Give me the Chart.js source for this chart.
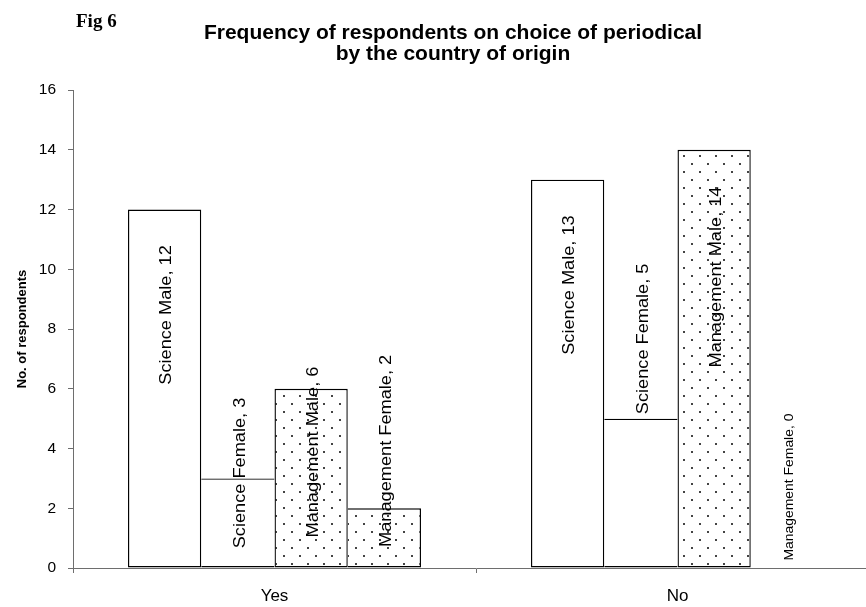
<!DOCTYPE html>
<html>
<head>
<meta charset="utf-8">
<script src="https://cdn.jsdelivr.net/npm/chart.js@4/dist/chart.umd.min.js"></script>
<style>
  html, body { margin: 0; padding: 0; background: #fff; overflow: hidden; }
  #wrap { width: 886px; height: 607px; }
</style>
</head>
<body>
<div id="wrap"><canvas id="c" width="886" height="607"></canvas></div>
<script>
// ---- data ----
const categories = ['Yes', 'No'];
const seriesNames = ['Science Male', 'Science Female', 'Management Male', 'Management Female'];
const scienceMale = [12, 13];
const scienceFemale = [3, 5];
const managementMale = [6, 14];
const managementFemale = [2, 0];
const yTicks = [0, 2, 4, 6, 8, 10, 12, 14, 16];

const seriesValues = [scienceMale, scienceFemale, managementMale, managementFemale];

// ---- styling ----
const FONT = "'Liberation Sans', Arial, Helvetica, sans-serif";
Chart.defaults.font.family = FONT;
Chart.defaults.color = '#000';

function makeDots() {
  const t = document.createElement('canvas');
  t.width = 16; t.height = 16;
  const g = t.getContext('2d');
  g.fillStyle = '#fff';
  g.fillRect(0, 0, 16, 16);
  g.fillStyle = '#444';
  g.fillRect(3, 3, 2, 2);
  g.fillRect(11, 11, 2, 2);
  return document.getElementById('c').getContext('2d').createPattern(t, 'repeat');
}
const dots = makeDots();
const fills = ['#ffffff', '#ffffff', dots, dots];

const BW = 1.4;
function borderFor(ctx) {
  const d = ctx.datasetIndex, i = ctx.dataIndex;
  const v = seriesValues[d][i];
  if (v === 0) return 0;
  const prev = d > 0 ? seriesValues[d - 1][i] : -1;
  const next = d < seriesValues.length - 1 ? seriesValues[d + 1][i] : -1;
  return { top: BW, bottom: BW, left: prev <= v ? BW : 0, right: next < v ? BW : 0 };
}

// label placement (centre of rotated label, in axis units) and size per bar
const labelCentre = [[8.47, 9.47], [3.18, 7.67], [3.88, 9.74], [3.92, 2.71]];
const labelSize = [[17, 17], [17, 17], [17, 17], [17, 13]];

const labelsPlugin = {
  id: 'barLabels',
  afterDatasetsDraw(chart) {
    const { ctx, scales: { y } } = chart;
    ctx.save();
    chart.data.datasets.forEach((ds, d) => {
      const meta = chart.getDatasetMeta(d);
      meta.data.forEach((el, i) => {
        const text = seriesNames[d] + ', ' + ds.data[i];
        ctx.save();
        ctx.translate(el.x + 2, y.getPixelForValue(labelCentre[d][i]));
        ctx.rotate(-Math.PI / 2);
        ctx.scale(1.07, 1);
        ctx.font = labelSize[d][i] + 'px ' + FONT;
        ctx.fillStyle = '#000';
        ctx.textAlign = 'center';
        ctx.textBaseline = 'middle';
        ctx.fillText(text, 0, 0);
        ctx.restore();
      });
    });
    ctx.restore();
  }
};

const titlePlugin = {
  id: 'titles',
  afterDraw(chart) {
    const { ctx } = chart;
    ctx.save();
    ctx.fillStyle = '#000';
    ctx.textBaseline = 'alphabetic';
    ctx.textAlign = 'left';
    ctx.font = "bold 19px 'Liberation Serif', 'Times New Roman', serif";
    ctx.fillText('Fig 6', 76, 27);
    ctx.textAlign = 'center';
    ctx.font = 'bold 21px ' + FONT;
    ctx.fillText('Frequency of respondents on choice of periodical', 453, 39);
    ctx.fillText('by the country of origin', 453, 60);
    ctx.restore();
  }
};

new Chart(document.getElementById('c'), {
  type: 'bar',
  data: {
    labels: categories,
    datasets: seriesNames.map((name, d) => ({
      label: name,
      data: seriesValues[d],
      backgroundColor: fills[d],
      borderColor: '#000',
      borderWidth: borderFor,
      borderSkipped: false,
      categoryPercentage: 0.727,
      barPercentage: 1.0
    }))
  },
  options: {
    responsive: false,
    animation: false,
    events: [],
    layout: { padding: { top: 90, right: 7, left: 0, bottom: 0 } },
    plugins: { legend: { display: false }, title: { display: false }, tooltip: { enabled: false } },
    scales: {
      x: {
        offset: true,
        grid: { display: true, drawOnChartArea: false, drawTicks: true, tickLength: 5, color: '#6e6e6e', offset: true },
        border: { display: true, color: '#6e6e6e', width: 1 },
        ticks: { font: { size: 17 }, color: '#000', padding: 13, maxRotation: 0 },
        afterFit(s) { s.height = 39; }
      },
      y: {
        min: 0, max: 16,
        afterBuildTicks(s) { s.ticks = yTicks.map(v => ({ value: v })); },
        grid: { display: true, drawOnChartArea: false, drawTicks: true, tickLength: 5, color: '#6e6e6e' },
        border: { display: true, color: '#6e6e6e', width: 1 },
        ticks: { font: { size: 15.5 }, color: '#000', padding: 12 },
        title: { display: true, text: 'No. of respondents', font: { size: 13, weight: 'bold' }, color: '#000', padding: { top: 15, bottom: 0 } },
        afterFit(s) { s.width = 73; }
      }
    }
  },
  plugins: [labelsPlugin, titlePlugin]
});
</script>
</body>
</html>
